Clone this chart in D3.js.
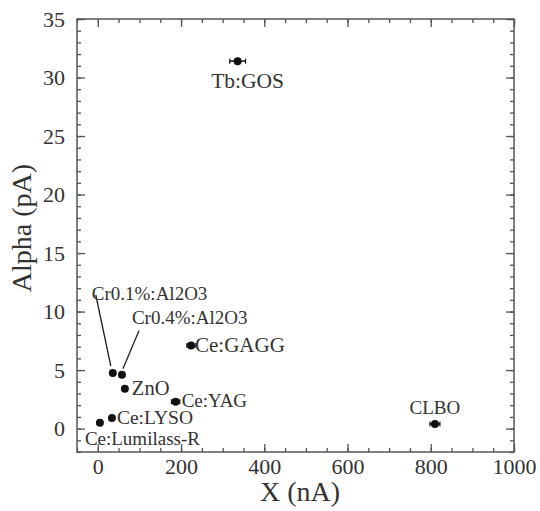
<!DOCTYPE html>
<html>
<head>
<meta charset="utf-8">
<script src="https://cdn.jsdelivr.net/npm/d3@7"></script>
<style>
  body { margin: 0; background: #fff; }
  text { font-family: "Liberation Serif", "Times New Roman", serif; fill: #333; }
</style>
</head>
<body>
<div id="chart"></div>
<script>
// data
const materials = ["Tb:GOS", "Cr0.1%:Al2O3", "Cr0.4%:Al2O3", "ZnO", "Ce:GAGG", "Ce:YAG", "Ce:LYSO", "Ce:Lumilass-R", "CLBO"];
const xValues = [336, 36, 58, 65, 224, 187, 34, 5, 810];
const yValues = [31.4, 4.75, 4.6, 3.4, 7.1, 2.3, 0.9, 0.5, 0.4];
const xErrors = [19, 5, 5, 5, 10, 10, 5, 5, 12];
const xTicks = [0, 200, 400, 600, 800, 1000];
const yTicks = [0, 5, 10, 15, 20, 25, 30, 35];

const width = 540, height = 511;
const margin = { top: 19, right: 26, bottom: 59, left: 77 };

// label layout: offset from the point, anchor, size, optional leader line
const labelLayout = [
    { dx: 10, dy: 27, anchor: "middle", size: 21.5 },
    { dx: -21, dy: -73, anchor: "start", size: 19, line: [-17, -78, -2, -7] },
    { dx: 10, dy: -51, anchor: "start", size: 19, line: [17, -44, 1, -6] },
    { dx: 7, dy: 6, anchor: "start", size: 20.5 },
    { dx: 4, dy: 6, anchor: "start", size: 21 },
    { dx: 6, dy: 5, anchor: "start", size: 19 },
    { dx: 5, dy: 6, anchor: "start", size: 19.5 },
    { dx: -15, dy: 22, anchor: "start", size: 19 },
    { dx: 0, dy: -10, anchor: "middle", size: 19 }
];

const data = materials.map((m, i) => ({
    name: m, x: xValues[i], y: yValues[i], err: xErrors[i], lay: labelLayout[i]
}));

const svg = d3.select("#chart").append("svg")
    .attr("width", width)
    .attr("height", height);

const x = d3.scaleLinear().domain([-50, 1000]).range([margin.left, width - margin.right]);
const y = d3.scaleLinear().domain([-2, 35]).range([height - margin.bottom, margin.top]);

const axisColor = "#555";
const xMinor = d3.range(-50, 1001, 50);
const yMinor = d3.range(-2, 36, 1);

const addAxis = (axis, tx, ty) => {
    const g = svg.append("g")
        .attr("transform", `translate(${tx},${ty})`)
        .call(axis);
    g.select(".domain").remove();
    g.selectAll(".tick line").attr("stroke", axisColor).attr("stroke-width", 1.3);
    return g;
};

const plotBottom = y.range()[0], plotTop = y.range()[1];
const plotLeft = x.range()[0], plotRight = x.range()[1];

// minor ticks on all four sides
addAxis(d3.axisBottom(x).tickValues(xMinor).tickSize(-4).tickFormat(""), 0, plotBottom);
addAxis(d3.axisTop(x).tickValues(xMinor).tickSize(-4).tickFormat(""), 0, plotTop);
addAxis(d3.axisLeft(y).tickValues(yMinor).tickSize(-4).tickFormat(""), plotLeft, 0);
addAxis(d3.axisRight(y).tickValues(yMinor).tickSize(-4).tickFormat(""), plotRight, 0);

// major ticks
const xAxisG = addAxis(d3.axisBottom(x).tickValues(xTicks).tickSize(-8).tickPadding(6).tickFormat(d3.format("d")), 0, plotBottom);
addAxis(d3.axisTop(x).tickValues(xTicks).tickSize(-8).tickFormat(""), 0, plotTop);
const yAxisG = addAxis(d3.axisLeft(y).tickValues(yTicks).tickSize(-8).tickPadding(12).tickFormat(d3.format("d")), plotLeft, 0);
addAxis(d3.axisRight(y).tickValues(yTicks).tickSize(-8).tickFormat(""), plotRight, 0);

xAxisG.selectAll("text").attr("font-size", 22).attr("font-family", "Liberation Serif").attr("fill", "#333");
yAxisG.selectAll("text").attr("font-size", 22).attr("font-family", "Liberation Serif").attr("fill", "#333");

// frame
svg.append("rect")
    .attr("x", plotLeft).attr("y", plotTop)
    .attr("width", plotRight - plotLeft).attr("height", plotBottom - plotTop)
    .attr("fill", "none")
    .attr("stroke", axisColor)
    .attr("stroke-width", 1.5);

// axis titles
svg.append("text")
    .attr("x", 300)
    .attr("y", 501)
    .attr("text-anchor", "middle")
    .attr("font-size", 28)
    .text("X (nA)");

svg.append("text")
    .attr("transform", `translate(31, 228) rotate(-90)`)
    .attr("text-anchor", "middle")
    .attr("font-size", 28)
    .text("Alpha (pA)");

// error bars
const pts = svg.append("g");
pts.selectAll("line.err").data(data)
    .enter().append("line")
    .attr("class", "err")
    .attr("x1", d => x(d.x - d.err))
    .attr("x2", d => x(d.x + d.err))
    .attr("y1", d => y(d.y))
    .attr("y2", d => y(d.y))
    .attr("stroke", "#111")
    .attr("stroke-width", 1.5);

pts.selectAll("line.cap").data(data.flatMap(d => [[d.x - d.err, d.y], [d.x + d.err, d.y]]))
    .enter().append("line")
    .attr("class", "cap")
    .attr("x1", d => x(d[0]))
    .attr("x2", d => x(d[0]))
    .attr("y1", d => y(d[1]) - 2.5)
    .attr("y2", d => y(d[1]) + 2.5)
    .attr("stroke", "#111")
    .attr("stroke-width", 1.2);

pts.selectAll("circle").data(data)
    .enter().append("circle")
    .attr("cx", d => x(d.x))
    .attr("cy", d => y(d.y))
    .attr("r", 4)
    .attr("fill", "#111");

// leader lines
pts.selectAll("line.lead").data(data.filter(d => d.lay.line))
    .enter().append("line")
    .attr("class", "lead")
    .attr("x1", d => x(d.x) + d.lay.line[0])
    .attr("y1", d => y(d.y) + d.lay.line[1])
    .attr("x2", d => x(d.x) + d.lay.line[2])
    .attr("y2", d => y(d.y) + d.lay.line[3])
    .attr("stroke", "#222")
    .attr("stroke-width", 1.3);

// labels
pts.selectAll("text").data(data)
    .enter().append("text")
    .attr("x", d => x(d.x) + d.lay.dx)
    .attr("y", d => y(d.y) + d.lay.dy)
    .attr("text-anchor", d => d.lay.anchor)
    .attr("font-size", d => d.lay.size)
    .text(d => d.name);
</script>
</body>
</html>
